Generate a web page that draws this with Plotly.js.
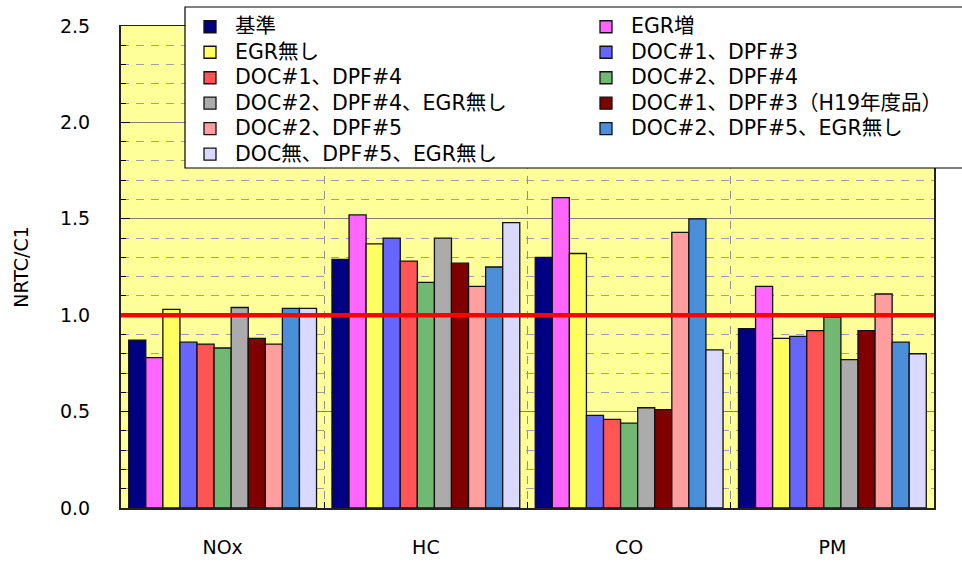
<!DOCTYPE html>
<html>
<head>
<meta charset="utf-8">
<script src="https://cdn.plot.ly/plotly-3.0.1.min.js"></script>
<style>html,body{margin:0;padding:0;background:#fff;}#chart{width:962px;height:563px;}</style>
</head>
<body>
<div id="chart"></div>
<script>
const categories = ["NOx", "HC", "CO", "PM"];
const seriesNames = [
  "基準", "EGR増", "EGR無し", "DOC#1、DPF#3", "DOC#1、DPF#4", "DOC#2、DPF#4",
  "DOC#2、DPF#4、EGR無し", "DOC#1、DPF#3（H19年度品）", "DOC#2、DPF#5",
  "DOC#2、DPF#5、EGR無し", "DOC無、DPF#5、EGR無し"
];
const kijun        = [0.87, 1.29, 1.30, 0.93];
const egrZo        = [0.78, 1.52, 1.61, 1.15];
const egrNashi     = [1.03, 1.37, 1.32, 0.88];
const doc1dpf3     = [0.86, 1.40, 0.48, 0.89];
const doc1dpf4     = [0.85, 1.28, 0.46, 0.92];
const doc2dpf4     = [0.83, 1.17, 0.44, 0.99];
const doc2dpf4egr  = [1.04, 1.40, 0.52, 0.77];
const doc1dpf3h19  = [0.88, 1.27, 0.51, 0.92];
const doc2dpf5     = [0.85, 1.15, 1.43, 1.11];
const doc2dpf5egr  = [1.035, 1.25, 1.50, 0.86];
const docNoDpf5egr = [1.035, 1.48, 0.82, 0.80];
const seriesValues = [kijun, egrZo, egrNashi, doc1dpf3, doc1dpf4, doc2dpf4,
  doc2dpf4egr, doc1dpf3h19, doc2dpf5, doc2dpf5egr, docNoDpf5egr];
const colors = ["#000080", "#FF66FF", "#FFFF60", "#6666FF", "#FF5555", "#72B872",
  "#ABABAB", "#800000", "#FF9E9E", "#4A8FD8", "#D9D9FF"];
const referenceLevel = 1.0;

const FONT = "DejaVu Sans, Noto Sans CJK JP, sans-serif";

const traces = seriesNames.map((name, i) => ({
  type: "bar",
  name: "<span style='font-size:20.5px'>" + name + "</span>",
  x: categories,
  y: seriesValues[i],
  marker: { color: colors[i], line: { color: "#111", width: 1.3 } },
  hoverinfo: "skip"
}));

// legend frame (open on the right, like the source where it runs off the image)
const pxX = px => (px - 121) / 813;
const pxY = py => (508 - py) / 482;

const layout = {
  width: 962, height: 563,
  margin: { l: 121, r: 28, t: 26, b: 55, autoexpand: false },
  paper_bgcolor: "#ffffff",
  plot_bgcolor: "#FFFF99",
  font: { family: FONT, size: 19, color: "#000" },
  barmode: "group",
  bargap: 0.076,
  bargroupgap: 0,
  showlegend: true,
  legend: {
    orientation: "h",
    x: pxX(185), xanchor: "left",
    y: pxY(9), yanchor: "top",
    bgcolor: "rgba(0,0,0,0)",
    borderwidth: 0,
    itemwidth: 40,
    font: { family: FONT, size: 17.3, color: "#000" },
    entrywidth: 341, entrywidthmode: "pixels",
    traceorder: "normal"
  },
  xaxis: {
    type: "category",
    tickson: "boundaries",
    ticks: "inside", ticklen: 6, tickcolor: "#000",
    showgrid: true, gridcolor: "#909090", griddash: "8px,7px", gridwidth: 1,
    showline: true, linecolor: "#222", linewidth: 1.5, mirror: true,
    tickfont: { family: FONT, size: 19 },
    ticklabelstandoff: 22,
    zeroline: false
  },
  yaxis: {
    range: [0, 2.5],
    dtick: 0.5, tick0: 0,
    tickformat: ".1f",
    ticks: "inside", ticklen: 9, tickcolor: "#000",
    showgrid: true, gridcolor: "#808080", gridwidth: 1,
    minor: { dtick: 0.1, ticks: "inside", ticklen: 5, tickcolor: "#000",
             showgrid: true, gridcolor: "#A0A0A0", griddash: "8px,7px", gridwidth: 1 },
    showline: true, linecolor: "#222", linewidth: 2, mirror: true,
    zeroline: false,
    tickfont: { family: FONT, size: 19 },
    ticklabelstandoff: 25,
    title: { text: "NRTC/C1", font: { family: FONT, size: 19 }, standoff: 26 }
  },
  shapes: [
    {
      type: "line", xref: "paper", yref: "y",
      x0: 0, x1: 1, y0: referenceLevel, y1: referenceLevel,
      line: { color: "#FF0000", width: 4.5 }, layer: "above"
    },
    {
      type: "rect", xref: "paper", yref: "paper",
      x0: pxX(185), x1: pxX(990), y0: pxY(168), y1: pxY(7),
      fillcolor: "#ffffff", line: { color: "#000", width: 1.2 }, layer: "above"
    }
  ]
};

Plotly.newPlot("chart", traces, layout, { staticPlot: true, displayModeBar: false });
</script>
</body>
</html>
